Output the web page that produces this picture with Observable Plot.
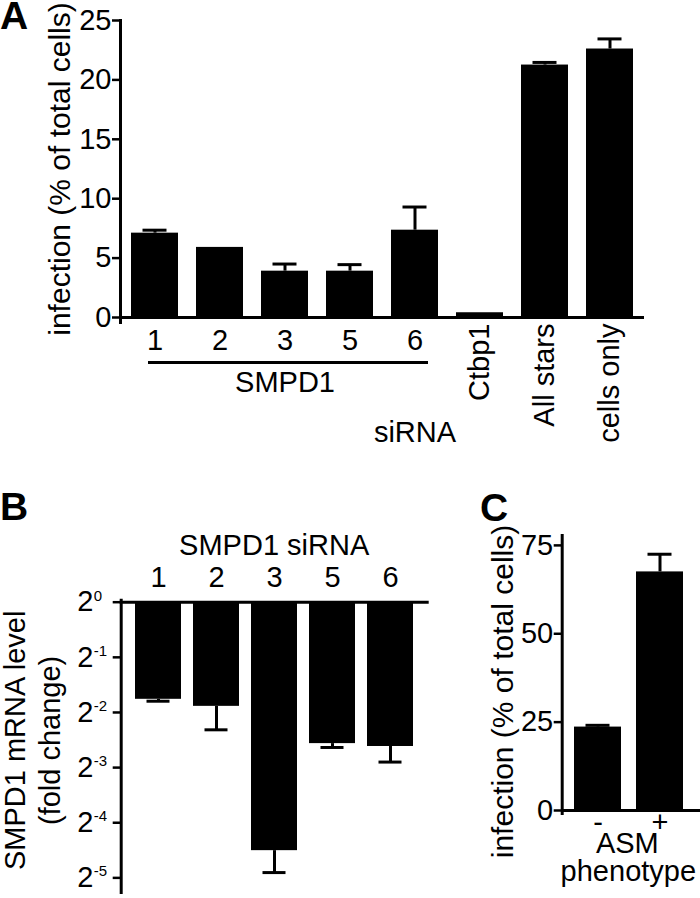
<!DOCTYPE html>
<html><head><meta charset="utf-8">
<script src="https://cdn.jsdelivr.net/npm/d3@7"></script>
<script src="https://cdn.jsdelivr.net/npm/@observablehq/plot@0.6"></script>
<style>
body{margin:0;background:#fff;}
#wrap{position:relative;width:700px;height:898px;overflow:hidden;background:#fff;font-family:'Liberation Sans',Arial,Helvetica,sans-serif;}
.panel{position:absolute;}
.letter{position:absolute;font-weight:bold;font-size:39px;line-height:39px;color:#000;}
</style></head><body>
<div id="wrap"></div>
<script>
// ---- Panel A data ----
const aCategories = ["1","2","3","5","6","Ctbp1","All stars","cells only"];
const aMeans = [7.1, 5.9, 3.9, 3.9, 7.35, 0.4, 21.25, 22.6];
const aSem = [0.25, 0, 0.6, 0.55, 1.95, 0, 0.22, 0.85];
const aYTicks = [0, 5, 10, 15, 20, 25];
const aNumericLabels = ["1","2","3","5","6"];
const aRotatedLabels = ["Ctbp1","All stars","cells only"];
const aYLabel = "infection (% of total cells)";
const aGroupLabel = "SMPD1";
const aXLabel = "siRNA";

// ---- Panel B data ----
const bCategories = ["1","2","3","5","6"];
const bFoldChange = [0.295, 0.270, 0.044, 0.169, 0.163];
const bErrorEnd = [0.288, 0.201, 0.0334, 0.161, 0.134];
const bYTicks = [1, 0.5, 0.25, 0.125, 0.0625, 0.03125];
const bYExponents = ["0","-1","-2","-3","-4","-5"];
const bTitle = "SMPD1 siRNA";
const bYLabel = "SMPD1 mRNA level\n(fold change)";

// ---- Panel C data ----
const cCategories = ["-","+"];
const cMeans = [23.6, 67.5];
const cSem = [0.5, 5.0];
const cYTicks = [0, 25, 50, 75];
const cYLabel = "infection (% of total cells)";
const cXLabelLines = ["ASM", "phenotype"];

const panelLetters = ["A","B","C"];

const font = "'Liberation Sans', Arial, Helvetica, sans-serif";
const FS = 29;
const LFS = 30;
const style = {fontFamily: font, fontSize: FS + "px", color: "#000", background: "transparent", overflow: "visible"};
const wrap = document.getElementById("wrap");

function place(node, left, top) {
  node.classList.add("panel");
  node.style.left = left + "px";
  node.style.top = top + "px";
  wrap.appendChild(node);
}

// ---- Panel A ----
const aData = aCategories.map((c, i) => ({c, m: aMeans[i], s: aSem[i]}));
const aErr = aData.filter(d => d.s > 0);
const A = Plot.plot({
  width: 700, height: 460,
  marginLeft: 120, marginRight: 56, marginTop: 20, marginBottom: 143,
  style,
  x: {domain: aCategories, paddingInner: 0.28, paddingOuter: 0.13},
  y: {domain: [0, 25]},
  marks: [
    Plot.barY(aData, {x: "c", y: "m", fill: "#000"}),
    Plot.ruleX(aErr, {x: "c", y1: "m", y2: d => d.m + d.s, stroke: "#000", strokeWidth: 3}),
    Plot.tickY(aErr, {x: "c", y: d => d.m + d.s, stroke: "#000", strokeWidth: 3, insetLeft: 11.5, insetRight: 11.5}),
    Plot.frame({anchor: "left", stroke: "#000", strokeWidth: 3, insetBottom: -5}),
    Plot.ruleY([0], {stroke: "#000", strokeWidth: 3}),
    Plot.axisY({ticks: aYTicks, tickSize: 8, tickPadding: 1, strokeWidth: 2.5, fontSize: FS, label: null}),
    Plot.axisX({ticks: aNumericLabels, tickSize: 0, tickPadding: 12, fontSize: FS, label: null}),
    Plot.axisX({ticks: aRotatedLabels, tickSize: 0, tickPadding: 6, tickRotate: -90, fontSize: FS, label: null}),
    Plot.ruleY([0], {x1: () => aNumericLabels[0], x2: () => aNumericLabels[aNumericLabels.length - 1], dy: 45, stroke: "#000", strokeWidth: 3, insetLeft: 17, insetRight: 10}),
    Plot.text([aGroupLabel], {x: () => "3", y: () => 0, text: d => d, dy: 65, fontSize: FS, lineAnchor: "middle"}),
    Plot.text([aXLabel], {x: () => "6", y: () => 0, text: d => d, dy: 115, fontSize: FS, lineAnchor: "middle"}),
    Plot.text([aYLabel], {frameAnchor: "left", text: d => d, rotate: -90, dx: -60, fontSize: LFS, textAnchor: "middle", lineAnchor: "middle"})
  ]
});
place(A, 0, 0);

// ---- Panel B ----
const bData = bCategories.map((c, i) => ({c, v: bFoldChange[i], e: bErrorEnd[i]}));
const B = Plot.plot({
  width: 480, height: 438,
  marginLeft: 120.7, marginRight: 53.3, marginTop: 141.7, marginBottom: 6,
  style,
  x: {domain: bCategories, padding: 0.2},
  y: {type: "log", base: 2, domain: [0.026, 1]},
  marks: [
    Plot.barY(bData, {x: "c", y1: () => 1, y2: "v", fill: "#000"}),
    Plot.ruleX(bData, {x: "c", y1: "v", y2: "e", stroke: "#000", strokeWidth: 3}),
    Plot.tickY(bData, {x: "c", y: "e", stroke: "#000", strokeWidth: 3, insetLeft: 11.5, insetRight: 11.5}),
    Plot.frame({anchor: "left", stroke: "#000", strokeWidth: 3, insetTop: -2}),
    Plot.frame({anchor: "top", stroke: "#000", strokeWidth: 3}),
    Plot.axisY({ticks: bYTicks, tickSize: 8, tickFormat: () => "", strokeWidth: 2.5, label: null}),
    Plot.text(bYTicks, {y: d => d, frameAnchor: "left", text: () => "2", textAnchor: "start", dx: -44, fontSize: FS, lineAnchor: "middle"}),
    Plot.text(bYTicks, {y: d => d, frameAnchor: "left", text: (d, i) => bYExponents[i], textAnchor: "start", dx: -27.5, dy: -1.5, fontSize: 15, lineAnchor: "bottom"}),
    Plot.axisX({anchor: "top", tickSize: 0, tickPadding: 15, fontSize: FS, label: null}),
    Plot.text([bTitle], {frameAnchor: "top", text: d => d, dy: -47, lineAnchor: "bottom", fontSize: FS}),
    Plot.text([bYLabel], {frameAnchor: "left", text: d => d, rotate: -90, dx: -90, dy: -7, textAnchor: "middle", lineAnchor: "middle", lineHeight: 1.2, fontSize: FS})
  ]
});
place(B, 0, 460);

// ---- Panel C ----
const cData = cCategories.map((c, i) => ({c, m: cMeans[i], s: cSem[i]}));
const C = Plot.plot({
  width: 220, height: 438,
  marginLeft: 81.7, marginRight: 0, marginTop: 75, marginBottom: 88,
  style,
  x: {domain: cCategories, paddingInner: 0.25, paddingOuter: 0.23, align: 0.42},
  y: {domain: [0, 77.8]},
  marks: [
    Plot.barY(cData, {x: "c", y: "m", fill: "#000"}),
    Plot.ruleX(cData, {x: "c", y1: "m", y2: d => d.m + d.s, stroke: "#000", strokeWidth: 3}),
    Plot.tickY(cData, {x: "c", y: d => d.m + d.s, stroke: "#000", strokeWidth: 3, insetLeft: 11.5, insetRight: 11.5}),
    Plot.frame({anchor: "left", stroke: "#000", strokeWidth: 3, insetBottom: -3}),
    Plot.ruleY([0], {stroke: "#000", strokeWidth: 3}),
    Plot.axisY({ticks: cYTicks, tickSize: 8, tickPadding: 1, strokeWidth: 2.5, fontSize: FS, label: null}),
    Plot.axisX({tickSize: 0, tickPadding: 1, fontSize: FS, label: null}),
    Plot.text([cXLabelLines[0]], {frameAnchor: "bottom", text: d => d, dx: -4, dy: 42, lineAnchor: "bottom", fontSize: FS}),
    Plot.text([cXLabelLines[1]], {frameAnchor: "bottom", text: d => d, dx: -3, dy: 70, lineAnchor: "bottom", fontSize: FS}),
    Plot.text([cYLabel], {frameAnchor: "left", text: d => d, rotate: -90, dx: -59, dy: 18.5, textAnchor: "middle", lineAnchor: "middle", fontSize: LFS})
  ]
});
place(C, 480, 460);

// ---- panel letters ----
const letterPos = [[0, -4], [0, 487], [480, 488]];
panelLetters.forEach((t, i) => {
  const d = document.createElement("div");
  d.className = "letter";
  d.textContent = t;
  d.style.left = letterPos[i][0] + "px";
  d.style.top = letterPos[i][1] + "px";
  wrap.appendChild(d);
});
</script>
</body></html>
